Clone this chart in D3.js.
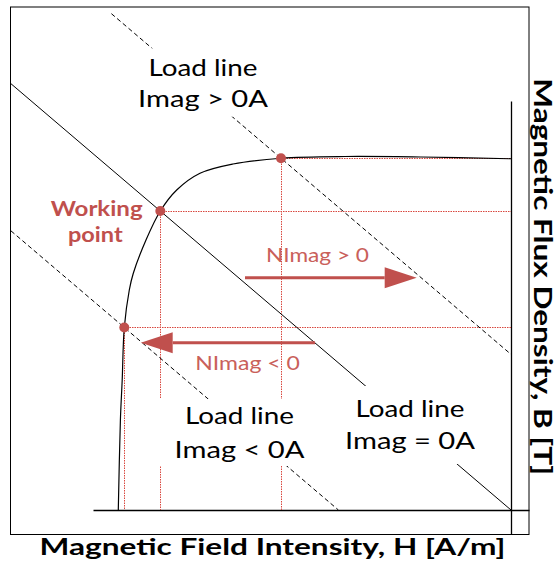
<!DOCTYPE html>
<html>
<head>
<meta charset="utf-8">
<script src="https://cdn.jsdelivr.net/npm/d3@7"></script>
<style>
  html, body { margin: 0; padding: 0; background: #fff; }
  svg { display: block; }
</style>
</head>
<body>
<svg id="chart" width="558" height="566"></svg>
<script>
// Demagnetisation curve of the magnet, H in A/m, B in T
const curveH = [-392.7, -390.6, -388.8, -386.7, -381.7, -377.7, -365, -350.7, -334.3, -311, -278, -230, -166, -90, 0];
const curveB = [0, 0.36, 0.52, 0.73, 0.88, 0.947, 1.08, 1.196, 1.28, 1.347, 1.384, 1.407, 1.414, 1.412, 1.405];

// Load lines: permeance slope (T per A/m) and the H where each one crosses B = 0
const loadSlope = 0.00341;
const loadNames = ["Imag < 0A", "Imag = 0A", "Imag > 0A"];
const loadZeroH = [-172.6, 0, 182.6];
const loadFromH = [-500, -500, -399.6];
const loadToH = [-172.6, 0, 0];
const loadDashed = [true, false, true];

// Operating points where the curve meets each load line
const pointH = [-386.7, -350.7, -230];
const pointB = [0.73, 1.196, 1.407];

// Shift of the operating point caused by the coil current
const shiftNames = ["NImag > 0", "NImag < 0"];
const shiftFromH = [-266, -196];
const shiftToH = [-94.3, -370.3];
const shiftB = [0.929, 0.669];

// Axis extents and titles
const hAxisExtent = [-418, 18];
const bAxisExtent = [-0.098, 1.636];
const xTitle = "Magnetic Field Intensity, H [A/m]";
const yTitle = "Magnetic Flux Density, B [T]";

const RED = "#c0504d";
const FONT = "Lato, 'Open Sans', sans-serif";
const svg = d3.select("#chart").attr("font-family", FONT);

const x = d3.scaleLinear().domain([-500, 0]).range([11, 511]);
const y = d3.scaleLinear().domain([0, 1.4]).range([510, 160]);
const snap = v => Math.round(v - 0.5) + 0.5;

// outer frame
svg.append("rect")
  .attr("x", 10.5).attr("y", 7).attr("width", 518.5).attr("height", 527.5)
  .attr("fill", "none").attr("stroke", "#000").attr("stroke-width", 1);

// axes without ticks
const hAxisScale = x.copy().domain(hAxisExtent).range(hAxisExtent.map(x));
const bAxisScale = y.copy().domain(bAxisExtent).range(bAxisExtent.map(y));
svg.append("g").attr("transform", `translate(0,${y(0)})`)
  .call(d3.axisBottom(hAxisScale).tickValues([]).tickSizeOuter(0))
  .select(".domain").attr("stroke", "#000").attr("stroke-width", 1.3);
svg.append("g").attr("transform", `translate(${x(0)},0)`)
  .call(d3.axisLeft(bAxisScale).tickValues([]).tickSizeOuter(0))
  .select(".domain").attr("stroke", "#000").attr("stroke-width", 1.3);

// dotted guides from the operating points to both axes
const guides = svg.append("g")
  .attr("stroke", "#d8473e").attr("stroke-width", 1).attr("stroke-dasharray", "1.5 1").attr("fill", "none");
pointH.forEach((h, i) => {
  const gx = snap(x(h)), gy = snap(y(pointB[i]));
  guides.append("line")
    .attr("x1", gx).attr("y1", gy).attr("x2", x(0)).attr("y2", gy);
  guides.append("line")
    .attr("x1", gx).attr("y1", gy).attr("x2", gx).attr("y2", y(0));
});

// load lines
const loadLine = d3.line().x(d => x(d[0])).y(d => y(d[1]));
loadNames.forEach((name, i) => {
  const bAt = h => -loadSlope * (h - loadZeroH[i]);
  svg.append("path")
    .attr("d", loadLine([[loadFromH[i], bAt(loadFromH[i])], [loadToH[i], bAt(loadToH[i])]]))
    .attr("fill", "none").attr("stroke", "#000").attr("stroke-width", 1)
    .attr("stroke-dasharray", loadDashed[i] ? "4.5 3" : null);
});

// B-H curve
const bh = d3.line().x(d => x(d[0])).y(d => y(d[1])).curve(d3.curveCatmullRom.alpha(0.5));
svg.append("path")
  .attr("d", bh(curveH.map((h, i) => [h, curveB[i]])))
  .attr("fill", "none").attr("stroke", "#000").attr("stroke-width", 1.2);

// arrows showing the shift of the operating point
shiftNames.forEach((name, i) => {
  const x0 = x(shiftFromH[i]), x1 = x(shiftToH[i]), yy = y(shiftB[i]);
  const dir = Math.sign(x1 - x0), headLen = 32, headHalf = 10.5;
  svg.append("line")
    .attr("x1", x0).attr("y1", yy).attr("x2", x1 - dir * headLen).attr("y2", yy)
    .attr("stroke", RED).attr("stroke-width", 3);
  svg.append("path")
    .attr("d", `M${x1},${yy}L${x1 - dir * headLen},${yy - headHalf}L${x1 - dir * headLen},${yy + headHalf}Z`)
    .attr("fill", RED);
});

// operating points
svg.append("g").selectAll("circle").data(pointH).join("circle")
  .attr("cx", d => x(d)).attr("cy", (d, i) => y(pointB[i])).attr("r", 5)
  .attr("fill", RED);

// load line labels on white boxes
const labelBoxes = [
  { name: "Imag > 0A", cx: 203, box: [130, 48.3, 277, 116.7], base: [76, 107.3] },
  { name: "Imag < 0A", cx: 239.5, box: [155, 399, 324, 466], base: [424.3, 457.7] },
  { name: "Imag = 0A", cx: 410, box: [340, 386, 480, 464], base: [416.7, 449.3] }
];
labelBoxes.forEach(l => {
  const g = svg.append("g");
  g.append("rect")
    .attr("x", l.box[0]).attr("y", l.box[1])
    .attr("width", l.box[2] - l.box[0]).attr("height", l.box[3] - l.box[1])
    .attr("fill", "#fff");
  g.append("text").attr("x", l.cx).attr("y", l.base[0]).attr("text-anchor", "middle")
    .attr("font-size", 23).attr("textLength", 109).attr("lengthAdjust", "spacingAndGlyphs")
    .text("Load line");
  g.append("text").attr("x", l.cx).attr("y", l.base[1]).attr("text-anchor", "middle")
    .attr("font-size", 23).attr("textLength", 130).attr("lengthAdjust", "spacingAndGlyphs")
    .text(l.name);
});

// arrow captions
const shiftLabels = [
  { cx: 317.5, base: 262.3, w: 103 },
  { cx: 247.5, base: 369.5, w: 104.5 }
];
shiftLabels.forEach((l, i) => {
  svg.append("text").attr("x", l.cx).attr("y", l.base).attr("text-anchor", "middle")
    .attr("font-size", 20).attr("fill", "#c9605a")
    .attr("textLength", l.w).attr("lengthAdjust", "spacingAndGlyphs")
    .text(shiftNames[i]);
});

// working point caption
const wp = svg.append("g").attr("fill", RED).attr("font-weight", "bold").attr("font-size", 20)
  .attr("text-anchor", "middle");
wp.append("text").attr("x", 96.7).attr("y", 216)
  .attr("textLength", 92).attr("lengthAdjust", "spacingAndGlyphs").text("Working");
wp.append("text").attr("x", 95.3).attr("y", 241.7)
  .attr("textLength", 54.7).attr("lengthAdjust", "spacingAndGlyphs").text("point");

// axis titles
svg.append("text").attr("x", 272.5).attr("y", 555).attr("text-anchor", "middle")
  .attr("font-size", 23.5).attr("font-weight", "bold")
  .attr("textLength", 466).attr("lengthAdjust", "spacingAndGlyphs")
  .text(xTitle);
svg.append("text").attr("transform", "translate(534,276.7) rotate(90)")
  .attr("text-anchor", "middle")
  .attr("font-size", 24.5).attr("font-weight", "bold")
  .attr("textLength", 397).attr("lengthAdjust", "spacingAndGlyphs")
  .text(yTitle);
</script>
</body>
</html>
